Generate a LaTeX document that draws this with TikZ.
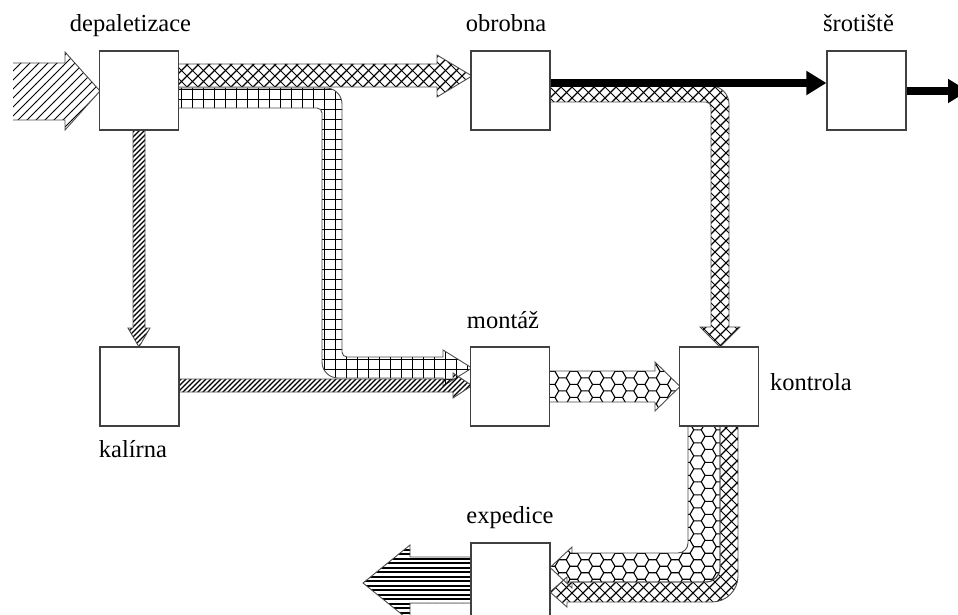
\documentclass[tikz,border=0pt]{standalone}
\usepackage{fontspec}
\setmainfont{Liberation Serif}
\usetikzlibrary{patterns,arrows.meta}

% wide "////" hatch
\pgfdeclarepatternformonly{hatchwide}{\pgfqpoint{-1pt}{-1pt}}{\pgfqpoint{10pt}{10pt}}{\pgfqpoint{9pt}{9pt}}{%
  \pgfsetlinewidth{1pt}%
  \pgfpathmoveto{\pgfqpoint{-0.1pt}{-0.1pt}}\pgfpathlineto{\pgfqpoint{9.1pt}{9.1pt}}\pgfusepath{stroke}}
% dense "////" hatch
\pgfdeclarepatternformonly{hatchthin}{\pgfqpoint{-1pt}{-1pt}}{\pgfqpoint{6pt}{6pt}}{\pgfqpoint{5pt}{5pt}}{%
  \pgfsetlinewidth{1.2pt}%
  \pgfpathmoveto{\pgfqpoint{-0.1pt}{-0.1pt}}\pgfpathlineto{\pgfqpoint{5.1pt}{5.1pt}}\pgfusepath{stroke}}
% diagonal crosshatch
\pgfdeclarepatternformonly{diagx}{\pgfqpoint{-1pt}{-1pt}}{\pgfqpoint{12pt}{12pt}}{\pgfqpoint{11pt}{11pt}}{%
  \pgfsetlinewidth{1.3pt}%
  \pgfpathmoveto{\pgfqpoint{-0.1pt}{-0.1pt}}\pgfpathlineto{\pgfqpoint{11.1pt}{11.1pt}}\pgfusepath{stroke}%
  \pgfsetlinewidth{0.8pt}%
  \pgfpathmoveto{\pgfqpoint{-0.1pt}{11.1pt}}\pgfpathlineto{\pgfqpoint{11.1pt}{-0.1pt}}\pgfusepath{stroke}}
% square grid
\pgfdeclarepatternformonly{gridp}{\pgfqpoint{-1pt}{-1pt}}{\pgfqpoint{12pt}{12pt}}{\pgfqpoint{11pt}{10pt}}{%
  \pgfsetlinewidth{1pt}%
  \pgfpathmoveto{\pgfqpoint{-0.1pt}{5pt}}\pgfpathlineto{\pgfqpoint{11.1pt}{5pt}}%
  \pgfpathmoveto{\pgfqpoint{5.5pt}{-0.1pt}}\pgfpathlineto{\pgfqpoint{5.5pt}{10.1pt}}\pgfusepath{stroke}}
% horizontal stripes
\pgfdeclarepatternformonly{horizp}{\pgfqpoint{-1pt}{-1pt}}{\pgfqpoint{5.5pt}{5.5pt}}{\pgfqpoint{4.5pt}{4.5pt}}{%
  \pgfsetlinewidth{1.7pt}%
  \pgfpathmoveto{\pgfqpoint{-0.1pt}{2.25pt}}\pgfpathlineto{\pgfqpoint{4.6pt}{2.25pt}}\pgfusepath{stroke}}
% honeycomb (side 7.5)
\pgfdeclarepatternformonly{hexp}{\pgfqpoint{-1pt}{-1pt}}{\pgfqpoint{23.5pt}{17.5pt}}{\pgfqpoint{22.5pt}{12.99pt}}{%
  \pgfsetlinewidth{1.1pt}%
  \pgfpathmoveto{\pgfqpoint{-0.1pt}{3.248pt}}\pgfpathlineto{\pgfqpoint{3.75pt}{3.248pt}}%
  \pgfpathlineto{\pgfqpoint{7.5pt}{9.743pt}}\pgfpathlineto{\pgfqpoint{3.75pt}{16.238pt}}%
  \pgfpathmoveto{\pgfqpoint{7.5pt}{9.743pt}}\pgfpathlineto{\pgfqpoint{15pt}{9.743pt}}%
  \pgfpathlineto{\pgfqpoint{18.75pt}{3.248pt}}\pgfpathlineto{\pgfqpoint{22.6pt}{3.248pt}}%
  \pgfpathmoveto{\pgfqpoint{15pt}{9.743pt}}\pgfpathlineto{\pgfqpoint{18.75pt}{16.238pt}}%
  \pgfusepath{stroke}}

\begin{document}
\begin{tikzpicture}[x=1pt,y=-1pt,
  box/.style={draw=black!75,fill=white,line width=1.2pt,minimum width=79pt,minimum height=79pt,inner sep=0pt},
  lbl/.style={font=\fontsize{24.5}{28}\selectfont,inner sep=0pt,anchor=base},
  strip/.style={draw=black!70,line width=0.9pt,line join=miter},
  blk/.style={line width=7.5pt,-{Triangle[length=20pt,width=23pt]}}]
\useasboundingbox (0,0) rectangle (958,615);
\clip (0,0) rectangle (958,615);

% input arrow into depaletizace
\path[pattern=hatchwide] (13,63) -- (65,63) -- (65,52) -- (100,91) -- (65,130) -- (65,120) -- (13,120) -- cycle;
\draw[strip] (13,63) -- (65,63) -- (65,52) -- (100,91) -- (65,130) -- (65,120) -- (13,120);

% depaletizace -> obrobna
\filldraw[strip,pattern=diagx] (170,64) -- (437,64) -- (437,55) -- (472,76) -- (437,97) -- (437,87) -- (170,87) -- cycle;

% depaletizace -> montaz (grid)
\filldraw[strip,pattern=gridp] (170,88) -- (326,88) .. controls (334.8,88) and (342,95.2) .. (342,104)
  -- (342,352) .. controls (342,354.8) and (344.2,357) .. (347,357)
  -- (443,357) -- (443,350) -- (472,368) -- (443,386) -- (443,378)
  -- (338,378) .. controls (329.2,378) and (322,370.8) .. (322,362)
  -- (322,113) .. controls (322,110.2) and (319.8,108) .. (317,108)
  -- (170,108) -- cycle;

% depaletizace -> kalirna
\filldraw[strip,pattern=hatchthin] (133,125) -- (133,328) -- (128,328) -- (139,347) -- (150,328) -- (145,328) -- (145,125) -- cycle;

% kalirna -> montaz
\filldraw[strip,pattern=hatchthin] (175,379) -- (453,379) -- (453,373) -- (472,385.5) -- (453,398) -- (453,392) -- (175,392) -- cycle;

% obrobna -> kontrola
\filldraw[strip,pattern=diagx] (540,86) -- (711,86) .. controls (720.9,86) and (729,94.1) .. (729,104)
  -- (729,327) -- (740,327) -- (720,347) -- (700,327) -- (711,327)
  -- (711,107) .. controls (711,104.24) and (708.76,102) .. (706,102)
  -- (540,102) -- cycle;

% montaz -> kontrola
\filldraw[strip,pattern=hexp] (540,371) -- (655,371) -- (655,362) -- (680,386.5) -- (655,411) -- (655,402) -- (540,402) -- cycle;

% kontrola -> expedice (crosshatch part)
\filldraw[strip,pattern=diagx] (720,420) -- (720,568) .. controls (720,575.7) and (713.7,582) .. (706,582)
  -- (567,582) -- (567,577) -- (550,592) -- (567,607) -- (567,602)
  -- (712,602) .. controls (726.35,602) and (738,590.35) .. (738,576)
  -- (738,420) -- cycle;

% kontrola -> expedice (honeycomb part)
\filldraw[strip,pattern=hexp] (688,420) -- (688,543) .. controls (688,548.5) and (683.5,553) .. (678,553)
  -- (572,553) -- (572,547) -- (550,567.5) -- (572,588) -- (572,582)
  -- (706,582) .. controls (713.7,582) and (720,575.7) .. (720,568)
  -- (720,420) -- cycle;

% expedice -> out
\filldraw[strip,pattern=horizp] (480,557) -- (410,557) -- (410,545) -- (363,583) -- (410,621) -- (410,603) -- (480,603) -- cycle;

% boxes
\node[box] (dep) at (139,90.5) {};
\node[box] (obr) at (510.5,90.5) {};
\node[box] (sro) at (866.5,90.5) {};
\node[box] (kal) at (139.5,386.5) {};
\node[box] (mon) at (510,386.5) {};
\node[box] (kon) at (719,386.5) {};
\node[box] (exp) at (510.5,582.5) {};

% black flows
\draw[blk] ([yshift=7.5pt]obr.east) -- ([yshift=7.5pt]sro.west);
\coordinate (out) at (968,91);
\draw[blk] ([yshift=-0.5pt]sro.east) -- (out);

% labels
\node[lbl] (ldep) at (130.5,32) {depaletizace};
\node[lbl] (lobr) at (506,32) {obrobna};
\node[lbl] (lsro) at (858.5,32) {šrotiště};
\node[lbl] (lmon) at (503,328) {montáž};
\node[lbl] (lkon) at (811,390) {kontrola};
\node[lbl] (lkal) at (133,457) {kalírna};
\node[lbl] (lexp) at (510,523) {expedice};
\end{tikzpicture}
\end{document}
